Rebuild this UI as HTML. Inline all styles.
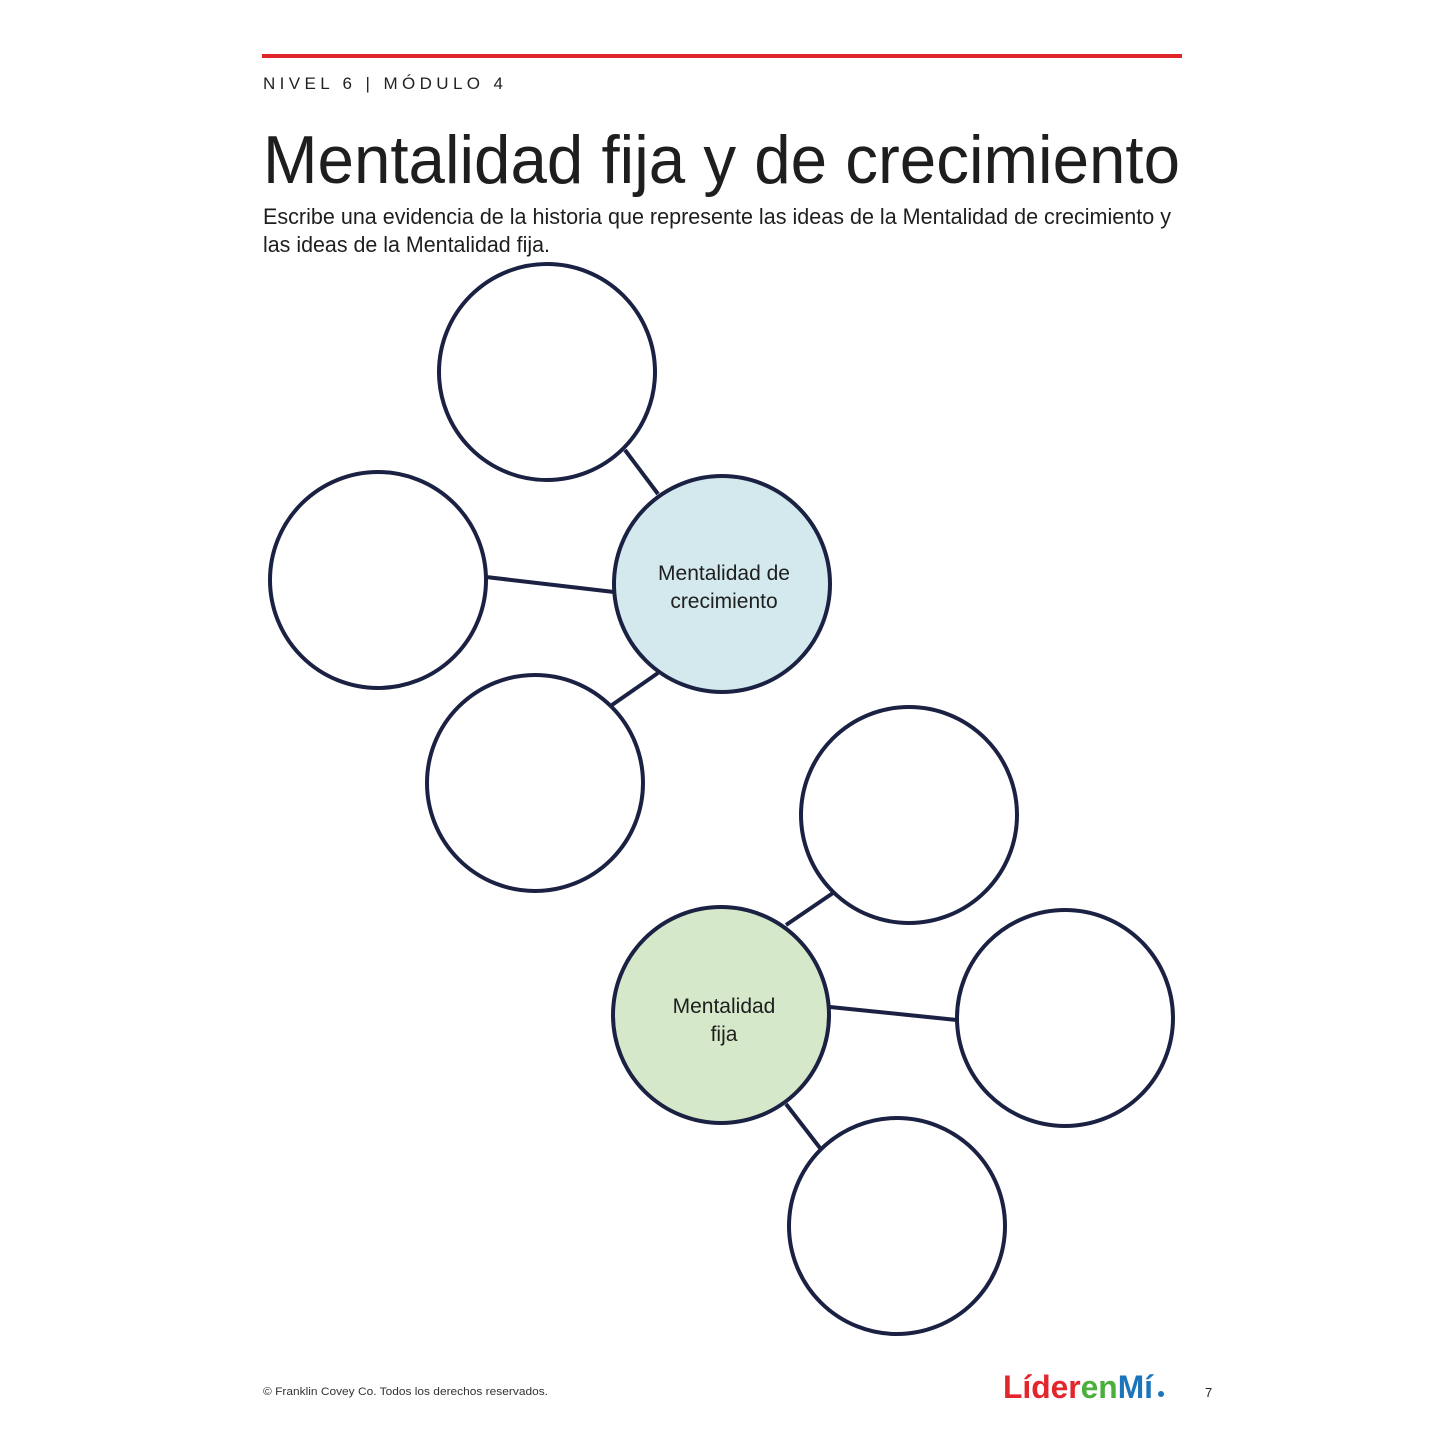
<!DOCTYPE html>
<html><head><meta charset="utf-8"><style>
html,body{margin:0;padding:0;background:#fff;}
svg{display:block;}
text{font-family:"Liberation Sans",sans-serif;}
</style></head><body>
<svg width="1445" height="1445" viewBox="0 0 1445 1445" xmlns="http://www.w3.org/2000/svg">
<rect x="262" y="54" width="920" height="4" fill="#e3262b"/>
<text x="263" y="89" font-size="17" fill="#222" textLength="240" lengthAdjust="spacing">NIVEL 6 | MÓDULO 4</text>
<text x="263" y="183" font-size="68" fill="#1e1e1e" textLength="917" lengthAdjust="spacingAndGlyphs">Mentalidad fija y de crecimiento</text>
<text x="263" y="224" font-size="22" fill="#1e1e1e" textLength="908" lengthAdjust="spacingAndGlyphs">Escribe una evidencia de la historia que represente las ideas de la Mentalidad de crecimiento y</text>
<text x="263" y="252" font-size="22" fill="#1e1e1e" textLength="287" lengthAdjust="spacingAndGlyphs">las ideas de la Mentalidad fija.</text>
<g stroke="#1a2142" stroke-width="4">
<line x1="625" y1="450" x2="658" y2="494"/>
<line x1="486" y1="577" x2="614" y2="592"/>
<line x1="612" y1="705" x2="658" y2="673"/>
<line x1="786" y1="925" x2="833" y2="893"/>
<line x1="830" y1="1007" x2="957" y2="1020"/>
<line x1="786" y1="1104" x2="820" y2="1148"/>
<circle cx="547" cy="372" r="108" fill="#fff"/>
<circle cx="378" cy="580" r="108" fill="#fff"/>
<circle cx="722" cy="584" r="108" fill="#d3e9ed"/>
<circle cx="535" cy="783" r="108" fill="#fff"/>
<circle cx="909" cy="815" r="108" fill="#fff"/>
<circle cx="721" cy="1015" r="108" fill="#d5e8c9"/>
<circle cx="1065" cy="1018" r="108" fill="#fff"/>
<circle cx="897" cy="1226" r="108" fill="#fff"/>
</g>
<g font-size="21" fill="#1e1e1e" text-anchor="middle">
<text x="724" y="580">Mentalidad de</text>
<text x="724" y="608">crecimiento</text>
<text x="724" y="1013">Mentalidad</text>
<text x="724" y="1041">fija</text>
</g>
<text x="263" y="1395" font-size="11" fill="#333" textLength="285" lengthAdjust="spacingAndGlyphs">© Franklin Covey Co. Todos los derechos reservados.</text>
<text x="1003" y="1398" font-size="32" font-weight="bold" textLength="150" lengthAdjust="spacingAndGlyphs"><tspan fill="#e3262b">Líder</tspan><tspan fill="#4caf3c">en</tspan><tspan fill="#1b75bb">Mí</tspan></text>
<circle cx="1161" cy="1394" r="3" fill="#1b75bb"/>
<text x="1205" y="1397" font-size="13" fill="#222">7</text>
</svg>
</body></html>
